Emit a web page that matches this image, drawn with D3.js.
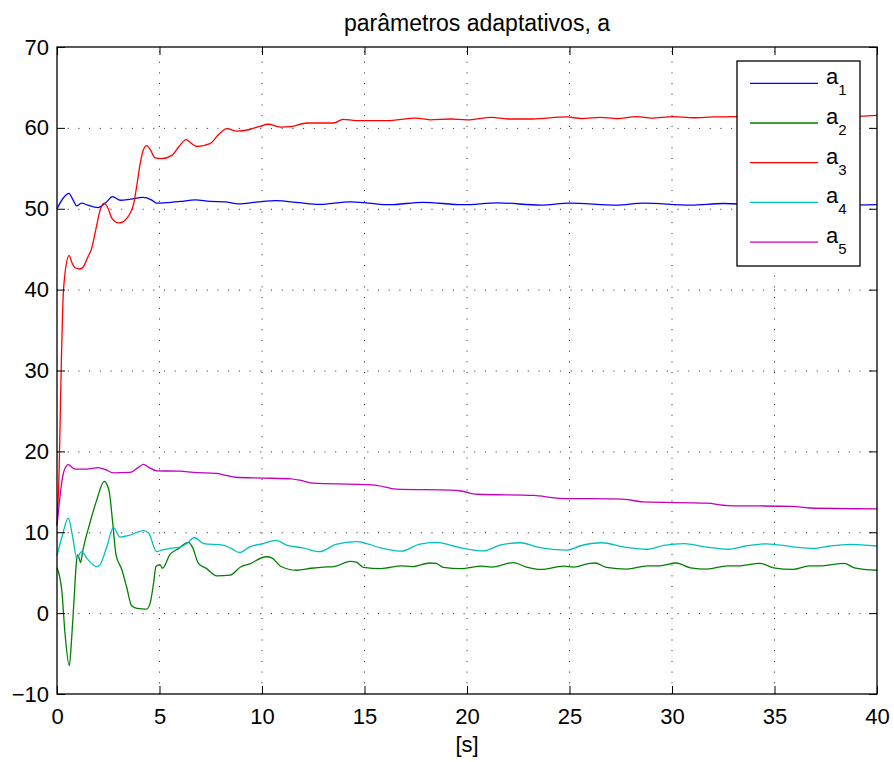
<!DOCTYPE html>
<html>
<head>
<meta charset="utf-8">
<script src="https://cdn.jsdelivr.net/npm/d3@7"></script>
<style>
  body { margin: 0; background: #fff; }
  svg { display: block; font-family: "Liberation Sans", Arial, sans-serif; }
  .line { fill: none; stroke-width: 1.3; }
  .grid line { stroke: #222; stroke-width: 1; stroke-dasharray: 1 9.7; }
</style>
</head>
<body>
<svg id="chart" width="894" height="762"></svg>
<script>
// Time (s) / value pairs, one array per parameter.
const a1 = [[0,50.0],[0.3,51.3],[0.58,51.9],[0.8,51.0],[0.96,50.35],[1.2,50.7],[1.5,50.45],[2.0,50.15],
  [2.4,50.8],[2.7,51.5],[3.1,51.05],[3.6,51.2],[4.2,51.4],[4.6,51.1],[4.86,50.7],[5.3,50.75],[6.0,50.9],
  [6.75,51.1],[7.46,50.9],[8.2,50.85],[8.85,50.6],[9.8,50.85],[10.7,51.0],[11.8,50.75],[12.8,50.55],
  [14.3,50.85],[15.2,50.7],[16.2,50.5],[17.85,50.8],[19.8,50.5],[21.5,50.73],[23.6,50.45],[25.0,50.7],
  [27.3,50.45],[28.6,50.7],[30.9,50.45],[32.5,50.65],[34.5,50.4],[36.5,50.6],[38.5,50.45],[40,50.5]];

const a2 = [[0,5.6],[0.12,4.6],[0.23,2.9],[0.39,-2.5],[0.6,-6.5],[0.71,-3.3],[0.83,1.6],[0.93,5.8],
  [0.99,7.2],[1.08,6.8],[1.15,6.25],[1.25,7.6],[1.6,11.1],[1.94,14.0],[2.3,16.3],[2.45,15.8],[2.55,15.0],
  [2.72,11.1],[2.88,7.2],[3.16,5.4],[3.4,3.2],[3.64,0.9],[3.9,0.6],[4.37,0.5],[4.54,1.2],[4.7,3.5],
  [4.83,5.76],[5.02,6.0],[5.15,5.55],[5.5,7.2],[5.93,8.0],[6.4,8.74],[6.6,8.2],[6.9,6.15],[7.3,5.5],
  [7.8,4.6],[8.45,4.7],[8.95,5.7],[9.4,6.1],[10.2,6.97],[10.5,6.8],[10.9,5.8],[11.7,5.3],[12.4,5.55],
  [13.0,5.7],[13.5,5.75],[14.3,6.4],[14.6,6.3],[14.95,5.65],[15.8,5.5],[16.8,5.85],[17.3,5.75],[18.2,6.2],
  [18.5,6.15],[18.85,5.65],[19.7,5.5],[20.7,5.8],[21.2,5.7],[22.25,6.25],[22.9,5.7],[23.6,5.4],[24.7,5.8],
  [25.2,5.7],[26.0,6.15],[26.25,6.2],[26.8,5.65],[27.8,5.45],[28.8,5.85],[29.4,5.85],[30.2,6.2],[30.9,5.6],
  [31.7,5.45],[32.7,5.85],[33.2,5.85],[34.3,6.15],[34.95,5.6],[35.9,5.4],[36.7,5.85],[37.2,5.85],
  [38.4,6.15],[38.9,5.6],[40,5.3]];

const a3 = [[0,10.9],[0.1,17.3],[0.2,29.7],[0.28,37.9],[0.39,42],[0.59,44.2],[0.75,43.2],[0.88,42.7],
  [1.12,42.55],[1.28,42.8],[1.5,44],[1.69,45.1],[1.9,47.5],[2.1,49.8],[2.3,50.7],[2.5,50.0],[2.68,48.8],
  [3.0,48.25],[3.2,48.35],[3.4,48.8],[3.6,49.6],[3.74,50.6],[3.9,53],[4.06,55.6],[4.2,57.2],[4.38,57.8],
  [4.55,57.3],[4.78,56.3],[5.11,56.2],[5.6,56.6],[5.95,57.7],[6.3,58.55],[6.55,58.1],[6.83,57.7],
  [7.46,58.05],[7.9,59.2],[8.28,59.9],[8.77,59.6],[9.4,59.8],[9.9,60.2],[10.3,60.45],[10.9,60.1],
  [11.4,60.15],[12.2,60.6],[13.5,60.6],[13.95,61.06],[14.6,60.9],[16.1,60.9],[17.5,61.2],[18.2,61.0],
  [19.2,61.1],[20.0,61.0],[21.2,61.3],[22.0,61.1],[23.2,61.1],[24.85,61.35],[25.6,61.15],[26.5,61.3],
  [27.3,61.15],[28.3,61.4],[29.0,61.2],[30.05,61.4],[31.0,61.25],[32.0,61.35],[33.0,61.4],[34,61.35],
  [35,61.45],[36.3,61.4],[37.2,61.6],[38.2,61.4],[39.2,61.45],[40,61.55]];

const a4 = [[0,7.1],[0.25,9.5],[0.55,11.75],[0.76,9.5],[0.96,6.8],[1.2,7.6],[1.45,6.8],[1.94,5.75],
  [2.1,6.0],[2.43,8.2],[2.75,10.6],[3.08,9.4],[3.5,9.6],[4.22,10.2],[4.47,9.9],[4.86,7.6],[5.1,7.8],
  [5.5,8.0],[6.0,8.15],[6.33,8.6],[6.7,9.35],[7.15,8.6],[8.1,8.4],[8.5,8.0],[8.9,7.5],[9.4,8.2],
  [10.07,8.6],[10.7,9.0],[11.2,8.4],[12.0,8.07],[12.8,7.6],[13.6,8.5],[14.6,8.85],[15.8,8.07],[16.8,7.66],
  [17.65,8.5],[18.5,8.75],[19.7,8.07],[20.8,7.7],[21.6,8.4],[22.6,8.7],[23.4,8.2],[24.9,7.8],[25.5,8.3],
  [26.6,8.7],[27.6,8.2],[28.8,7.9],[29.6,8.37],[30.6,8.6],[31.6,8.2],[32.8,7.9],[33.6,8.3],[34.6,8.57],
  [35.9,8.2],[36.9,8.0],[37.7,8.3],[38.7,8.5],[40,8.3]];

const a5 = [[0,10.8],[0.15,14.5],[0.31,17.3],[0.55,18.35],[0.88,17.8],[1.45,17.8],[2.02,18.0],[2.4,17.7],
  [2.75,17.35],[3.56,17.4],[3.9,17.9],[4.22,18.4],[4.5,18.0],[4.87,17.6],[6.0,17.55],[6.65,17.4],
  [7.8,17.27],[8.3,17.0],[8.7,16.8],[10.07,16.7],[11.4,16.6],[11.85,16.44],[12.5,16.07],[14.95,15.9],
  [15.6,15.8],[16.55,15.33],[19.2,15.2],[19.7,15.1],[20.5,14.7],[23.25,14.55],[24.5,14.2],[27.6,14.1],
  [28.6,13.75],[31.7,13.6],[32.7,13.3],[35.9,13.2],[36.7,13.0],[40,12.9]];

const seriesNames = ['1', '2', '3', '4', '5'];
const seriesData = [a1, a2, a3, a4, a5];
const seriesColors = ['#0000ff', '#008000', '#ff0000', '#00bfbf', '#bf00bf'];
const xTicks = [0, 5, 10, 15, 20, 25, 30, 35, 40];
const yTicks = [-10, 0, 10, 20, 30, 40, 50, 60, 70];
const titleText = 'parâmetros adaptativos, a';
const xLabel = '[s]';

(function () {
  const svg = d3.select('#chart');
  const pl = 57, pr = 877, pt = 47, pb = 694;

  const x = d3.scaleLinear().domain([0, 40]).range([pl, pr]);
  const y = d3.scaleLinear().domain([-10, 70]).range([pb, pt]);

  // dotted grid (inner ticks only)
  const grid = svg.append('g').attr('class', 'grid');
  grid.selectAll('line.v').data(xTicks.slice(1, -1)).join('line').attr('class', 'v')
    .attr('x1', (d) => x(d)).attr('x2', (d) => x(d)).attr('y1', pb).attr('y2', pt);
  grid.selectAll('line.h').data(yTicks.slice(1, -1)).join('line').attr('class', 'h')
    .attr('x1', pl).attr('x2', pr).attr('y1', (d) => y(d) + 0.5).attr('y2', (d) => y(d) + 0.5);

  // data lines
  const line = d3.line().x((d) => x(d[0])).y((d) => y(d[1])).curve(d3.curveMonotoneX);
  svg.append('g').selectAll('path')
    .data(seriesData)
    .join('path')
    .attr('class', 'line')
    .attr('stroke', (d, i) => seriesColors[i])
    .attr('d', line);

  // axes: MATLAB style, inward ticks on every side
  const tickLen = 8;
  const axisStyle = (g) => g.call((s) => s.select('.domain').remove())
    .call((s) => s.selectAll('line').attr('stroke', '#000').attr('stroke-width', 1))
    .call((s) => s.selectAll('text').attr('fill', '#000').attr('font-size', 22)
      .attr('font-family', '"Liberation Sans", Arial, sans-serif'));

  svg.append('g').attr('transform', `translate(0,${pb})`)
    .call(d3.axisBottom(x).tickValues(xTicks).tickSizeInner(-tickLen).tickSizeOuter(0).tickPadding(14))
    .call(axisStyle);
  svg.append('g').attr('transform', `translate(0,${pt})`)
    .call(d3.axisTop(x).tickValues(xTicks).tickSizeInner(-tickLen).tickSizeOuter(0).tickFormat(''))
    .call(axisStyle);
  svg.append('g').attr('transform', `translate(${pl},0)`)
    .call(d3.axisLeft(y).tickValues(yTicks).tickSizeInner(-tickLen).tickSizeOuter(0).tickPadding(8)
      .tickFormat((d) => (d < 0 ? '\u2212' + Math.abs(d) : d)))
    .call(axisStyle);
  svg.append('g').attr('transform', `translate(${pr},0)`)
    .call(d3.axisRight(y).tickValues(yTicks).tickSizeInner(-tickLen).tickSizeOuter(0).tickFormat(''))
    .call(axisStyle);

  svg.append('rect')
    .attr('x', pl).attr('y', pt).attr('width', pr - pl).attr('height', pb - pt)
    .attr('fill', 'none').attr('stroke', '#000').attr('stroke-width', 1.3);

  // title and x label
  svg.append('text').attr('x', 477).attr('y', 31).attr('text-anchor', 'middle')
    .attr('font-size', 23).text(titleText);
  svg.append('text').attr('x', (pl + pr) / 2).attr('y', 752).attr('text-anchor', 'middle')
    .attr('font-size', 22).text(xLabel);

  // legend
  const legend = svg.append('g').attr('transform', 'translate(737,61)');
  legend.append('rect').attr('width', 123).attr('height', 205)
    .attr('fill', '#fff').attr('stroke', '#000').attr('stroke-width', 1.3);
  const item = legend.selectAll('g.item').data(seriesNames).join('g')
    .attr('class', 'item')
    .attr('transform', (d, i) => `translate(0,${22.3 + i * 39.7})`);
  item.append('line').attr('x1', 13).attr('x2', 81).attr('y1', 0).attr('y2', 0)
    .attr('stroke', (d, i) => seriesColors[i]).attr('stroke-width', 1.3);
  const lt = item.append('text').attr('x', 89).attr('y', 1).attr('font-size', 22);
  lt.append('tspan').text('a');
  lt.append('tspan').attr('dy', 11).attr('font-size', 15).text((d) => d);
})();
</script>
</body>
</html>
